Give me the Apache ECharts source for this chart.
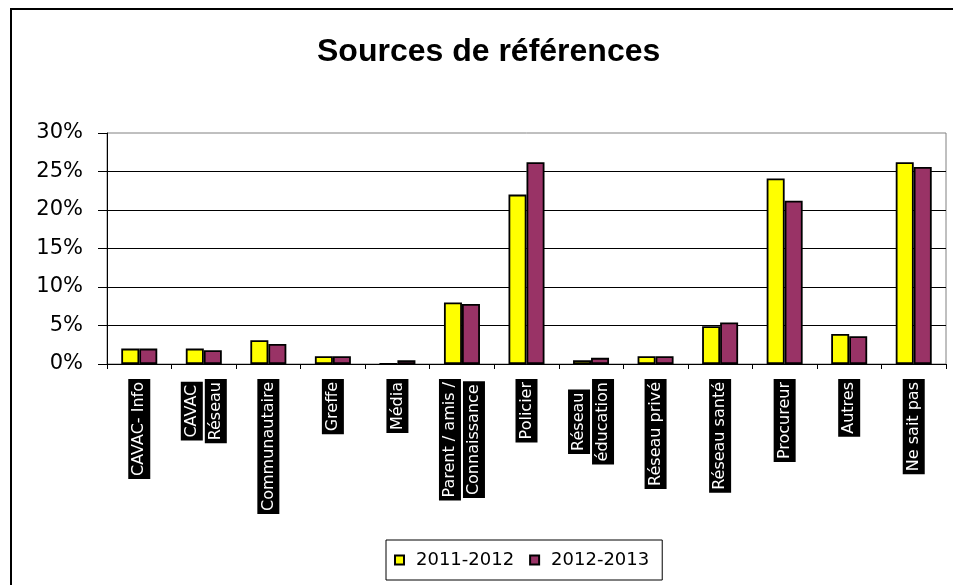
<!DOCTYPE html>
<html>
<head>
<meta charset="utf-8">
<script src="https://cdn.jsdelivr.net/npm/echarts@6/dist/echarts.min.js"></script>
<style>
  html, body { margin: 0; padding: 0; background: #fff; }
  #chart { width: 953px; height: 585px; }
</style>
</head>
<body>
<div id="chart"></div>
<script>
// Referral sources, share of cases per year (percent)
const categories = [
  'CAVAC- Info',
  'CAVAC\nRéseau',
  'Communautaire',
  'Greffe',
  'Média',
  'Parent / amis /\nConnaissance',
  'Policier',
  'Réseau\néducation',
  'Réseau privé',
  'Réseau santé',
  'Procureur',
  'Autres',
  'Ne sait pas'
];
const seriesNames = ['2011-2012', '2012-2013'];
const values2011 = [2.0, 2.0, 3.1, 1.0, 0, 8.0, 22.0, 0.5, 1.0, 4.9, 24.1, 3.9, 26.2];
const values2012 = [2.0, 1.8, 2.6, 1.0, 0.5, 7.8, 26.2, 0.8, 1.0, 5.4, 21.2, 3.6, 25.6];
const yTicks = { min: 0, max: 30, interval: 5 };

const chart = echarts.init(document.getElementById('chart'), null, { renderer: 'canvas' });

const barStyle = (color) => ({ color: color, borderColor: '#000', borderWidth: 1.8 });

chart.setOption({
  backgroundColor: '#fff',
  animation: false,
  title: {
    text: 'Sources de références',
    left: 312,
    top: 31,
    textStyle: {
      fontFamily: 'Liberation Sans, Arial, sans-serif',
      fontSize: 32,
      fontWeight: 'bold',
      color: '#000'
    }
  },
  graphic: [{
    type: 'rect',
    shape: { x: 11, y: 9, width: 980, height: 620 },
    style: { fill: 'none', stroke: '#000', lineWidth: 2 },
    silent: true,
    z: 0
  }],
  legend: {
    data: seriesNames,
    left: 386,
    top: 540,
    orient: 'horizontal',
    itemWidth: 9,
    itemHeight: 9,
    itemGap: 15,
    icon: 'rect',
    padding: [11, 13, 11, 8],
    borderColor: '#000',
    borderWidth: 1,
    textStyle: {
      fontFamily: 'DejaVu Sans, sans-serif',
      fontSize: 18,
      color: '#000',
      padding: [0, 0, 0, 7]
    }
  },
  grid: {
    left: 107,
    right: 7,
    top: 133,
    bottom: 221,
    show: true,
    borderColor: '#808080',
    borderWidth: 1,
    backgroundColor: 'transparent'
  },
  xAxis: {
    type: 'category',
    data: categories,
    boundaryGap: true,
    axisLine: { show: true, lineStyle: { color: '#000', width: 1 } },
    axisTick: { show: true, length: 5, alignWithLabel: false, lineStyle: { color: '#000' } },
    axisLabel: {
      interval: 0,
      rotate: 90,
      margin: 15,
      formatter: (v) => v.split('\n').map((s) => '{t|' + s + '}').join('\n'),
      rich: {
        t: {
          fontFamily: 'DejaVu Sans, sans-serif',
          fontSize: 16,
          lineHeight: 24,
          height: 22,
          color: '#fff',
          backgroundColor: '#000',
          padding: [0, 3],
          align: 'center'
        }
      }
    }
  },
  yAxis: {
    type: 'value',
    min: yTicks.min,
    max: yTicks.max,
    interval: yTicks.interval,
    axisLine: { show: true, lineStyle: { color: '#000', width: 1 } },
    axisTick: { show: true, length: 9, inside: false, lineStyle: { color: '#000' } },
    axisLabel: {
      margin: 24,
      formatter: '{value}%',
      fontFamily: 'DejaVu Sans, sans-serif',
      fontSize: 21,
      color: '#000'
    },
    splitLine: { show: true, showMaxLine: false, lineStyle: { color: '#000', width: 1 } }
  },
  series: [
    {
      name: seriesNames[0],
      type: 'bar',
      data: values2011,
      barWidth: 18,
      barGap: '0%',
      itemStyle: barStyle('#FFFF00')
    },
    {
      name: seriesNames[1],
      type: 'bar',
      data: values2012,
      barWidth: 18,
      barGap: '0%',
      itemStyle: barStyle('#993366')
    }
  ]
});
</script>
</body>
</html>
